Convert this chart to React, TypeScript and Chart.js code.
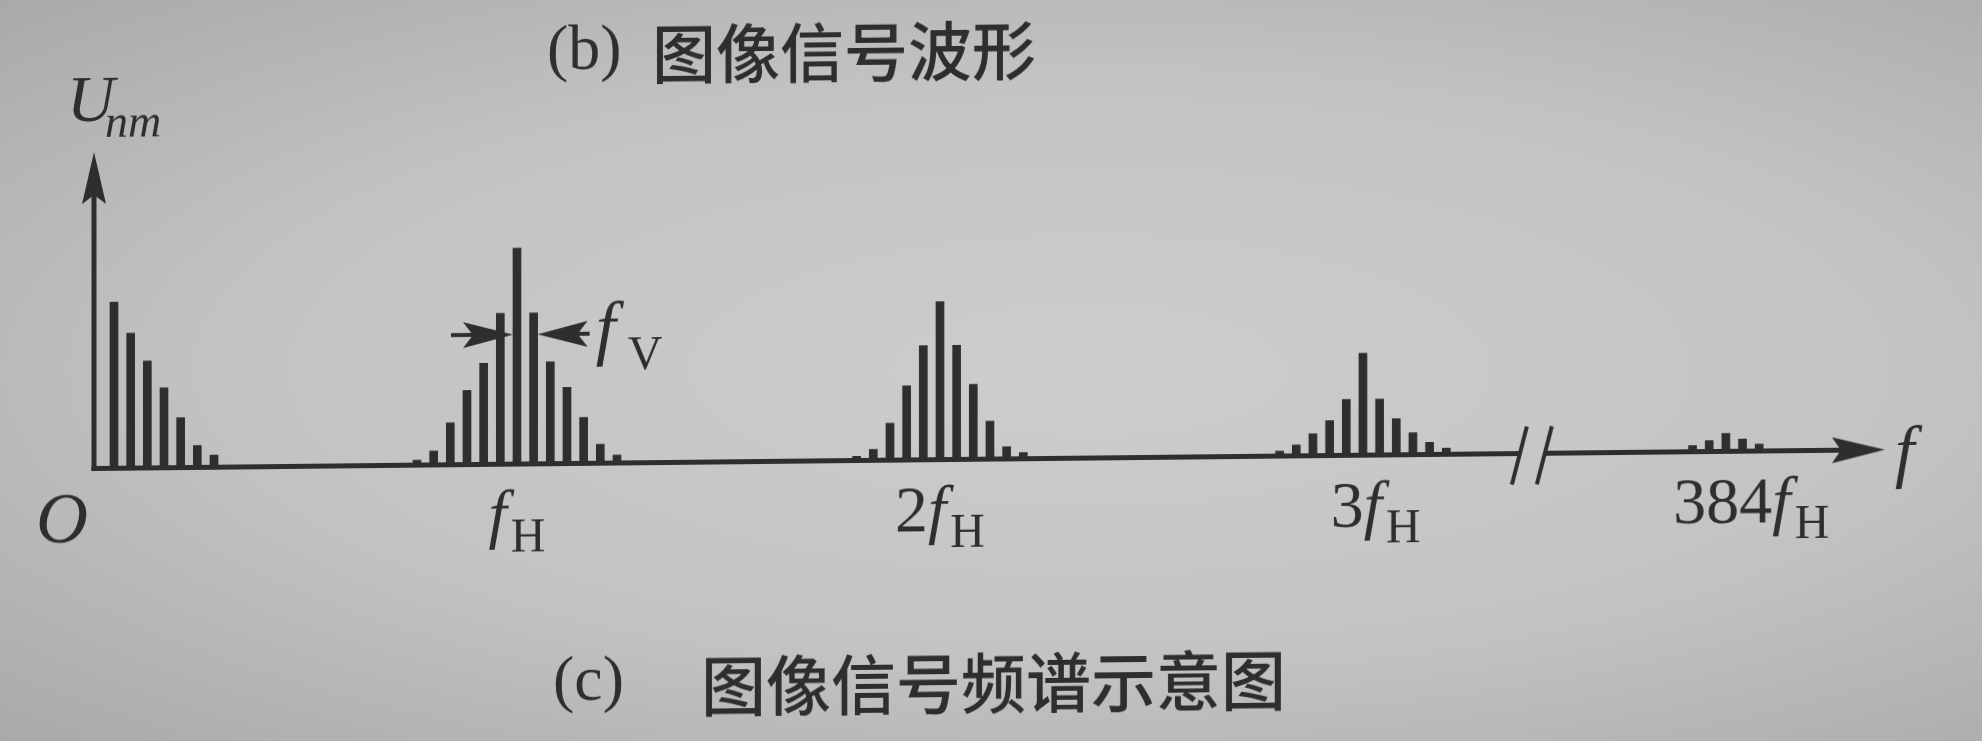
import React, { useEffect, useRef } from 'react';
import { Chart, registerables } from 'chart.js';

Chart.register(...registerables);

// ---- data (x in units of f_H on the schematic axis, y = relative amplitude, centre line of f_H = 100) ----
const groupCenters = [0.1655, 1, 2, 3, 3.858];
const labelCenters = [0, 1, 2, 3.03, 3.918];
const lineSpacing = 0.0394; // f_V spacing, in f_H units
const dcLines = [76.9, 62.5, 49.5, 37.0, 23.1, 10.2, 5.6];
const fHLines = [2.3, 6.5, 19.4, 34.3, 46.8, 69.9, 100, 69.9, 47.2, 35.2, 21.3, 8.8, 3.7];
const f2HLines = [1.9, 5.1, 17.1, 34.3, 52.8, 73.1, 52.8, 34.7, 17.6, 5.6, 2.8];
const f3HLines = [2.3, 5.1, 10.2, 16.2, 25.9, 47.2, 25.9, 16.7, 10.2, 5.6, 2.8];
const f384HLines = [2.8, 5.1, 8.3, 5.6, 3.2];
const groupLines = [dcLines, fHLines, f2HLines, f3HLines, f384HLines];
// label pieces: [prefix digits, italic main, subscript]
const groupLabels: [string, string, string][] = [
  ['', 'O', ''],
  ['', 'f', 'H'],
  ['2', 'f', 'H'],
  ['3', 'f', 'H'],
  ['384', 'f', 'H'],
];
const axisMaxX = 4.234;
const axisMaxY = 146.5;
const axisBreak = [3.371, 3.43];
const fVArrowLevel = 60;

const INK = '#2e2e2e';
const SERIF = '"Liberation Serif", "DejaVu Serif", serif';
const CJK = '"Noto Sans CJK SC", sans-serif';

function buildPoints() {
  const pts: { x: number; y: number }[] = [];
  groupLines.forEach((lines, g) => {
    const n = lines.length;
    lines.forEach((h, i) => {
      pts.push({ x: groupCenters[g] + (i - (n - 1) / 2) * lineSpacing, y: h });
    });
  });
  return pts;
}

function arrowHead(ctx: CanvasRenderingContext2D, tx: number, ty: number, dx: number, dy: number, L: number, W: number, N: number) {
  const nx = -dy, ny = dx;
  ctx.beginPath();
  ctx.moveTo(tx, ty);
  ctx.lineTo(tx - dx * L + nx * W, ty - dy * L + ny * W);
  ctx.lineTo(tx - dx * (L - N), ty - dy * (L - N));
  ctx.lineTo(tx - dx * L - nx * W, ty - dy * L - ny * W);
  ctx.closePath();
  ctx.fill();
}

function seg(ctx: CanvasRenderingContext2D, x1: number, y1: number, x2: number, y2: number) {
  ctx.beginPath();
  ctx.moveTo(x1, y1);
  ctx.lineTo(x2, y2);
  ctx.stroke();
}

const schematicPlugin = {
  id: 'schematic',
  afterDatasetsDraw(chart: any) {
    const { ctx, scales } = chart;
    const x = scales.x, y = scales.y;
    const x0 = x.getPixelForValue(0);
    const y0 = y.getPixelForValue(0);
    const yTop = y.getPixelForValue(axisMaxY);
    const xEnd = x.getPixelForValue(axisMaxX);
    const bx1 = x.getPixelForValue(axisBreak[0]);
    const bx2 = x.getPixelForValue(axisBreak[1]);
    ctx.save();
    ctx.strokeStyle = INK;
    ctx.fillStyle = INK;
    ctx.lineWidth = 5;
    ctx.lineCap = 'butt';
    // y axis
    seg(ctx, x0, y0 + 2.5, x0, yTop + 40);
    arrowHead(ctx, x0, yTop, 0, -1, 52, 12, 9);
    // x axis with break
    seg(ctx, x0 - 2.5, y0, bx1, y0);
    seg(ctx, bx2, y0, xEnd - 40, y0);
    arrowHead(ctx, xEnd, y0, 1, 0, 53, 13, 9);
    ctx.lineWidth = 4;
    [bx1, bx2].forEach((bx) => seg(ctx, bx + 7, y0 - 27, bx - 8, y0 + 31));

    // f_V spacing arrows
    const ay = y.getPixelForValue(fVArrowLevel);
    const lt = x.getPixelForValue(1) - 4;
    const rt = x.getPixelForValue(1 + lineSpacing) + 4;
    ctx.lineWidth = 4;
    seg(ctx, lt - 62, ay, lt - 40, ay);
    arrowHead(ctx, lt, ay, 1, 0, 50, 13, 10);
    seg(ctx, rt + 40, ay, rt + 52, ay);
    arrowHead(ctx, rt, ay, -1, 0, 50, 13, 10);

    // f_V label
    ctx.textBaseline = 'alphabetic';
    ctx.textAlign = 'left';
    ctx.font = `italic 72px ${SERIF}`;
    ctx.fillText('f', rt + 58, ay + 18);
    ctx.font = `48px ${SERIF}`;
    ctx.fillText('V', rt + 90, ay + 36);

    // group labels on the frequency axis
    const mainSize = 66, subSize = 48;
    const base = y0 + 71;
    groupLabels.forEach(([pre, main, sub], g) => {
      const cx = x.getPixelForValue(labelCenters[g]);
      if (main === 'O') {
        ctx.font = `italic 72px ${SERIF}`;
        ctx.textAlign = 'center';
        ctx.fillText('O', cx - 32, y0 + 73);
        return;
      }
      ctx.textAlign = 'left';
      ctx.font = `${mainSize}px ${SERIF}`;
      const wPre = ctx.measureText(pre).width;
      ctx.font = `italic ${mainSize}px ${SERIF}`;
      const wMain = ctx.measureText(main).width;
      ctx.font = `${subSize}px ${SERIF}`;
      const wSub = ctx.measureText(sub).width;
      const total = wPre + wMain + 4 + wSub;
      let px = cx - total / 2;
      ctx.font = `${mainSize}px ${SERIF}`;
      ctx.fillText(pre, px, base);
      px += wPre;
      ctx.font = `italic ${mainSize}px ${SERIF}`;
      ctx.fillText(main, px, base);
      px += wMain + 4;
      ctx.font = `${subSize}px ${SERIF}`;
      ctx.fillText(sub, px, base + 16);
    });

    // axis names
    ctx.textAlign = 'left';
    ctx.font = `italic 70px ${SERIF}`;
    ctx.fillText('f', xEnd + 10, y0 + 24);
    ctx.font = `italic 66px ${SERIF}`;
    ctx.fillText('U', x0 - 27, yTop - 31);
    ctx.font = `italic 46px ${SERIF}`;
    ctx.fillText('nm', x0 + 11, yTop - 15);

    // captions
    ctx.textBaseline = 'middle';
    ctx.font = `64px ${SERIF}`;
    ctx.fillText('(b)', 547, 58);
    ctx.font = `500 64px ${CJK}`;
    ctx.fillText('图像信号波形', 652, 61);
    ctx.font = `64px ${SERIF}`;
    ctx.fillText('(c)', 553, 689);
    ctx.font = `500 65px ${CJK}`;
    ctx.fillText('图像信号频谱示意图', 701, 693);
    ctx.restore();
  },
};

export default function App() {
  const ref = useRef<HTMLCanvasElement | null>(null);
  useEffect(() => {
    if (!ref.current) return;
    const chart = new Chart(ref.current, {
      type: 'bar',
      data: {
        datasets: [
          {
            label: 'U_nm',
            data: buildPoints(),
            backgroundColor: INK,
            borderWidth: 0,
            barThickness: 8,
          },
        ],
      },
      options: {
        responsive: false,
        animation: false,
        events: [],
        layout: { padding: { left: 94, right: 97, top: 153, bottom: 271.5 } },
        scales: {
          x: { type: 'linear', min: 0, max: axisMaxX, display: false, offset: false },
          y: { type: 'linear', min: 0, max: axisMaxY, display: false },
        },
        plugins: { legend: { display: false }, tooltip: { enabled: false }, title: { display: false } },
      },
      plugins: [schematicPlugin],
    });
    return () => chart.destroy();
  }, []);

  return (
    <div
      style={{
        position: 'fixed',
        left: 0,
        top: 0,
        width: 1982,
        height: 741,
        overflow: 'hidden',
        background: 'radial-gradient(ellipse at 55% 50%, #cdcdcb 0%, #c3c3c1 55%, #a9a9a7 100%)',
      }}
    >
      <div style={{ width: 1982, height: 741, transform: 'skewY(-0.6016deg)', transformOrigin: '0 0' }}>
        <canvas ref={ref} width={1982} height={741} style={{ width: 1982, height: 741, display: 'block' }} />
      </div>
    </div>
  );
}
